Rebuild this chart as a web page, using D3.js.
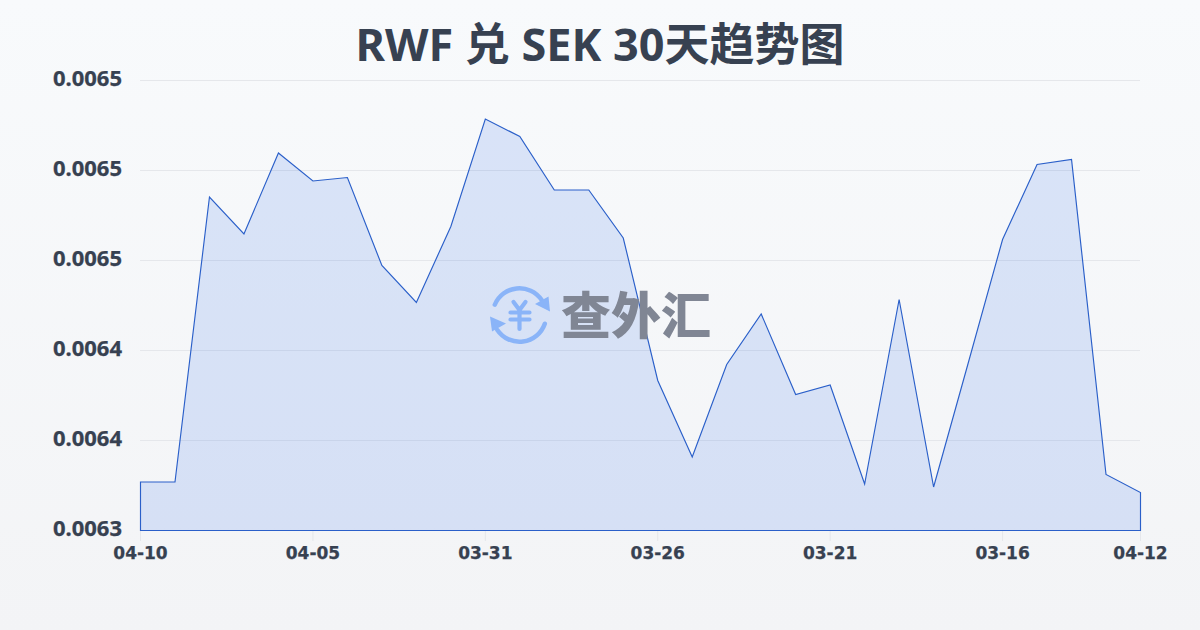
<!DOCTYPE html>
<html>
<head>
<meta charset="utf-8">
<script src="https://cdn.jsdelivr.net/npm/d3@7"></script>
<style>
html, body { margin: 0; padding: 0; background: #f8fafc; }
svg { display: block; }
</style>
</head>
<body>
<div id="chart"></div>
<script>
const titulo = "RWF 兑 SEK 30天趋势图";
const marca = "查外汇";

const fechas = ["04-10","04-09","04-08","04-07","04-06","04-05","04-04","04-03","04-02","04-01",
    "03-31","03-30","03-29","03-28","03-27","03-26","03-25","03-24","03-23","03-22",
    "03-21","03-20","03-19","03-18","03-17","03-16","03-15","03-14","03-13","04-12"];
const tasas = [0.00632694,0.00632694,0.00648528,0.00646472,0.00650972,0.00649417,0.00649611,0.00644722,0.00642667,0.00646889,
    0.00652861,0.00651889,0.00648917,0.00648917,0.00646250,0.00638333,0.00634083,0.00639222,0.00642028,0.00637556,
    0.00638083,0.00632583,0.00642833,0.00632417,0.00639278,0.00646167,0.00650333,0.00650611,0.00633111,0.00632111];
const fechasEje = ["04-10","04-05","03-31","03-26","03-21","03-16","04-12"];
const indicesEje = [0,5,10,15,20,25,29];
const valoresEje = [0.0063,0.00635,0.0064,0.00645,0.0065,0.00655];
const etiquetasEje = ["0.0063","0.0064","0.0064","0.0065","0.0065","0.0065"];

const svgWidth = 1200, svgHeight = 630;
const margin = { top: 80, right: 60, bottom: 100, left: 140 };
const width = svgWidth - margin.left - margin.right;
const height = svgHeight - margin.top - margin.bottom;

const root = d3.select("#chart").append("svg")
    .attr("width", svgWidth)
    .attr("height", svgHeight);

// Fondo con degradado
const defs = root.append("defs");
const fondo = defs.append("linearGradient").attr("id", "fondo")
    .attr("x1", 0).attr("y1", 0).attr("x2", 0).attr("y2", 1);
fondo.append("stop").attr("offset", "0%").attr("stop-color", "#f8fafc");
fondo.append("stop").attr("offset", "100%").attr("stop-color", "#f3f4f6");

root.append("rect")
    .attr("width", svgWidth).attr("height", svgHeight)
    .attr("fill", "url(#fondo)");

root.append("text")
    .attr("x", svgWidth / 2).attr("y", 61)
    .attr("text-anchor", "middle")
    .style("font-family", "'Noto Sans', 'Noto Sans CJK SC'")
    .style("font-weight", 700)
    .style("font-size", "45px")
    .attr("fill", "#374151")
    .text(titulo);

const svg = root.append("g")
    .attr("transform", `translate(${margin.left}, ${margin.top})`);

const x = d3.scaleLinear().domain([0, tasas.length - 1]).range([0, width]);
const y = d3.scaleLinear().domain([0.0063, 0.00655]).range([height, 0]);

// Ejes
const ejeX = svg.append("g")
    .attr("transform", `translate(0, ${height})`)
    .call(d3.axisBottom(x)
        .tickValues(indicesEje)
        .tickSize(11)
        .tickPadding(6)
        .tickFormat((d, i) => fechasEje[i]));
ejeX.select(".domain").remove();
ejeX.selectAll("line").attr("stroke", "#e5e7eb");
ejeX.selectAll("text")
    .style("font-family", "'DejaVu Sans'")
    .style("font-weight", 700)
    .style("font-size", "17px")
    .attr("fill", "#374151")
    .attr("stroke", "#374151")
    .attr("stroke-width", 0.25);

const ejeY = svg.append("g")
    .call(d3.axisLeft(y)
        .tickValues(valoresEje)
        .tickSize(-width)
        .tickPadding(18)
        .tickFormat((d, i) => etiquetasEje[i]));
ejeY.select(".domain").remove();
ejeY.selectAll("line").attr("stroke", "#e5e7eb");
ejeY.selectAll("text")
    .attr("dy", "0.24em")
    .style("font-family", "'Noto Sans'")
    .style("font-weight", 700)
    .style("font-size", "22px")
    .attr("fill", "#374151")
    .attr("stroke", "#374151")
    .attr("stroke-width", 0.25);

// Area
const area = d3.area()
    .x((d, i) => x(i))
    .y0(height)
    .y1(d => y(d));

svg.append("path")
    .datum(tasas)
    .attr("d", area)
    .attr("transform", "translate(0.5, 0.5)")
    .attr("fill", "#2563eb")
    .attr("fill-opacity", 0.14);

// Marca de agua
const azul = "#8ab4f8";
const logo = root.append("g").attr("transform", "translate(519.5, 315)");
const arco = d3.arc().innerRadius(24.5).outerRadius(29).cornerRadius(2.2);
logo.append("path").attr("d", arco({ startAngle: -1.26, endAngle: 1.05 })).attr("fill", azul);
logo.append("path").attr("d", arco({ startAngle: 1.82, endAngle: 4.2 })).attr("fill", azul);
logo.append("path").attr("d", "M30.5,-3.5 L15.5,-11 L29,-18.5 Z").attr("fill", azul);
logo.append("path").attr("d", "M-29.5,1.5 L-13.5,8.5 L-27.5,16.5 Z").attr("fill", azul);
logo.append("path")
    .attr("d", "M-6,-13 L0,-5 L6,-13 M-9,-2.5 H10 M-9,4.5 H10 M0,-4 V14")
    .attr("fill", "none")
    .attr("stroke", azul)
    .attr("stroke-width", 4.2)
    .attr("stroke-linecap", "round")
    .attr("stroke-linejoin", "round");

root.append("text")
    .attr("x", 636).attr("y", 334)
    .attr("text-anchor", "middle")
    .style("font-family", "'Noto Sans CJK SC'")
    .style("font-weight", 900)
    .style("font-size", "50px")
    .attr("fill", "#808694")
    .text(marca);

// Linea
svg.append("path")
    .datum(tasas)
    .attr("d", area)
    .attr("transform", "translate(0.5, 0.5)")
    .attr("fill", "none")
    .attr("stroke", "#2a5fc9")
    .attr("stroke-width", 1.15);
</script>
</body>
</html>
